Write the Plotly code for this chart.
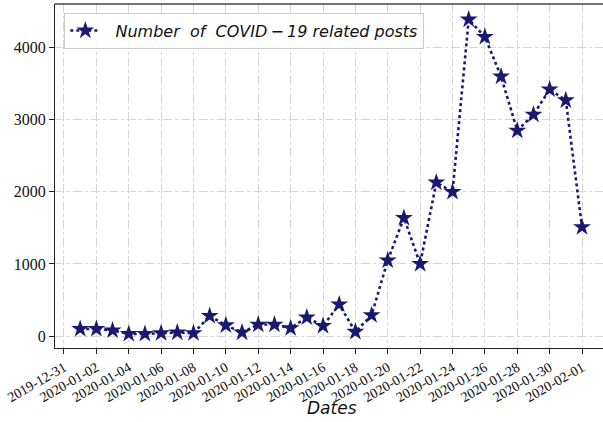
import plotly.graph_objects as go

dates = ["2020-01-%02d" % d for d in range(1, 32)] + ["2020-02-01"]
posts = [100, 100, 80, 30, 30, 40, 50, 40, 280, 150, 50, 160, 160, 110, 260, 140,
         440, 60, 290, 1050, 1640, 1000, 2130, 2000, 4390, 4150, 3600, 2850, 3070,
         3420, 3270, 1510]
tick_labels = ["2019-12-31", "2020-01-02", "2020-01-04", "2020-01-06", "2020-01-08",
               "2020-01-10", "2020-01-12", "2020-01-14", "2020-01-16", "2020-01-18",
               "2020-01-20", "2020-01-22", "2020-01-24", "2020-01-26", "2020-01-28",
               "2020-01-30", "2020-02-01"]
y_ticks = [0, 1000, 2000, 3000, 4000]

navy = "#191970"
serif = "Liberation Serif, Times New Roman, serif"
fig = go.Figure()
fig.add_trace(go.Scatter(
    x=dates, y=posts, mode="lines+markers",
    name="<i>\u00a0\u00a0Number\u00a0 of\u00a0 COVID\u2009\u2212\u200919 related posts</i>",
    line=dict(color=navy, width=2.6, dash="dot"),
    marker=dict(symbol="star", size=13.5, color=navy, line=dict(width=0)),
))

grid = dict(showgrid=True, gridcolor="#d6d6d6", griddash="dashdot", gridwidth=1)
fig.update_layout(
    width=603, height=422,
    margin=dict(l=55, r=0, t=4, b=74),
    paper_bgcolor="white", plot_bgcolor="white",
    showlegend=True, hovermode=False,
    legend=dict(x=0.017, y=0.975, xanchor="left", yanchor="top",
                bgcolor="rgba(255,255,255,0.85)", bordercolor="#cccccc", borderwidth=1,
                font=dict(family="DejaVu Sans", size=16, color="#111111"),
                itemwidth=30),
    xaxis=dict(
        type="date", automargin=False,
        range=["2019-12-30 10:40", "2020-02-02 07:07"],
        tickvals=tick_labels, ticktext=tick_labels,
        tickangle=-30,
        tickfont=dict(family=serif, size=14, color="#111111"),
        ticks="outside", ticklen=5, tickcolor="#222222",
        showline=True, linecolor="#222222", linewidth=1.2,
        zeroline=False,
        **grid,
    ),
    yaxis=dict(
        automargin=False,
        range=[-165, 4605],
        tickvals=y_ticks, ticktext=[str(v) for v in y_ticks],
        tickfont=dict(family=serif, size=16, color="#111111"),
        ticks="outside", ticklen=5, tickcolor="#222222",
        showline=True, linecolor="#222222", linewidth=1.2,
        zeroline=False,
        **grid,
    ),
    annotations=[dict(text="<i>Dates</i>", xref="paper", yref="paper", x=0.505, y=-0.175,
                      xanchor="center", yanchor="middle", showarrow=False,
                      font=dict(family="DejaVu Sans", size=17, color="#111111"))],
    shapes=[dict(type="line", xref="paper", yref="paper", x0=0, x1=1, y0=1, y1=1,
                 line=dict(color="#444444", width=1.5))],
)

fig.write_html("out.html", config={"displayModeBar": False},
               post_script="document.body.style.margin='0';")
